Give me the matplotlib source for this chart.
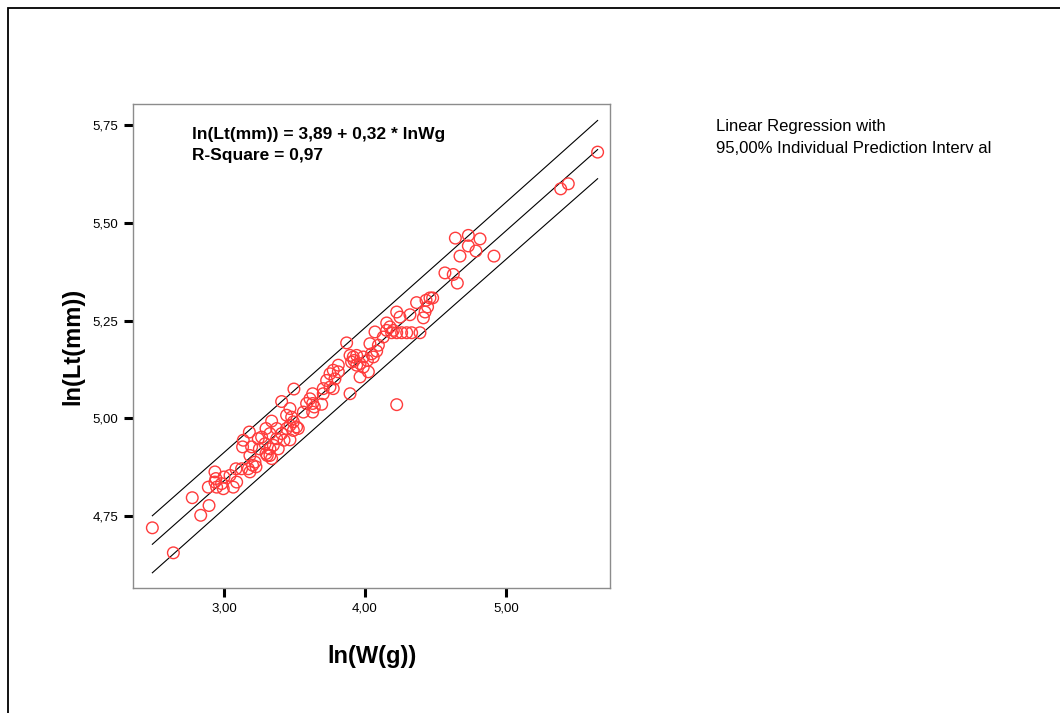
import numpy as np
import matplotlib.pyplot as plt
from matplotlib.patches import Rectangle

plt.rcParams["font.family"] = ["Liberation Sans", "DejaVu Sans"]

# ln(W(g)) and ln(Lt(mm))
lnW = [5.650, 5.388, 5.442, 4.641, 4.733, 4.816, 4.733, 4.787, 4.674, 4.915,
       4.567, 4.626, 4.655, 4.366, 4.433, 4.461, 4.480, 4.444, 4.426, 4.414,
       4.225, 4.248, 4.319, 4.154, 4.177, 4.201, 4.071, 4.154, 4.225, 4.260,
       4.296, 4.331, 4.390, 4.189, 3.870, 4.035, 4.095, 4.130, 4.083, 4.047,
       4.059, 3.988, 4.017, 3.894, 3.917, 3.941, 3.922, 3.905, 3.965, 3.941,
       3.988, 3.965, 4.024, 3.811, 3.775, 3.811, 3.752, 3.728, 3.787, 3.704,
       3.752, 3.775, 3.496, 3.894, 3.704, 3.629, 3.610, 3.629, 3.586, 3.693,
       3.563, 3.629, 3.641, 3.409, 3.468, 3.444, 3.480, 3.492, 3.468, 3.515,
       3.527, 3.492, 3.444, 3.338, 3.298, 3.374, 3.326, 3.409, 3.267, 3.374,
       3.426, 3.468, 3.243, 3.291, 3.350, 3.251, 3.326, 3.385, 3.298, 3.326,
       3.338, 3.307, 3.180, 3.137, 3.132, 3.196, 3.184, 3.220, 3.203, 3.173,
       3.184, 3.227, 3.085, 3.125, 3.043, 3.090, 3.066, 2.936, 2.943, 2.948,
       3.000, 2.995, 2.983, 2.889, 2.936, 2.775, 2.894, 2.835, 2.492, 2.641,
       4.225]
lnLt = [5.681, 5.587, 5.600, 5.461, 5.468, 5.459, 5.441, 5.428, 5.415, 5.415,
        5.372, 5.368, 5.346, 5.296, 5.302, 5.308, 5.308, 5.285, 5.272, 5.257,
        5.272, 5.259, 5.265, 5.244, 5.234, 5.225, 5.221, 5.225, 5.219, 5.219,
        5.219, 5.219, 5.219, 5.219, 5.193, 5.191, 5.187, 5.208, 5.172, 5.165,
        5.157, 5.157, 5.148, 5.161, 5.157, 5.161, 5.148, 5.144, 5.140, 5.136,
        5.131, 5.106, 5.119, 5.136, 5.123, 5.119, 5.114, 5.097, 5.101, 5.076,
        5.080, 5.076, 5.075, 5.063, 5.063, 5.063, 5.050, 5.038, 5.038, 5.036,
        5.016, 5.016, 5.029, 5.043, 5.025, 5.008, 5.003, 4.991, 4.982, 4.978,
        4.974, 4.969, 4.974, 4.993, 4.974, 4.974, 4.961, 4.961, 4.952, 4.948,
        4.944, 4.945, 4.948, 4.935, 4.931, 4.922, 4.922, 4.922, 4.910, 4.905,
        4.897, 4.905, 4.965, 4.944, 4.927, 4.927, 4.905, 4.888, 4.880, 4.871,
        4.863, 4.876, 4.871, 4.871, 4.854, 4.837, 4.824, 4.863, 4.846, 4.824,
        4.850, 4.820, 4.833, 4.824, 4.837, 4.797, 4.777, 4.752, 4.720, 4.656,
        5.035]

x_ticks = [3.0, 4.0, 5.0]
y_ticks = [4.75, 5.00, 5.25, 5.50, 5.75]

x = np.array(lnW)
y = np.array(lnLt)

# regressao linear + intervalo de predicao individual 95%
b1, b0 = np.polyfit(x, y, 1)
n = len(x)
resid = y - (b0 + b1 * x)
s = np.sqrt(np.sum(resid ** 2) / (n - 2))
t = 1.976
xx = np.linspace(x.min(), x.max(), 200)
fit = b0 + b1 * xx
half = t * s * np.sqrt(1 + 1 / n + (xx - x.mean()) ** 2 / np.sum((x - x.mean()) ** 2))

fig = plt.figure(figsize=(10.6, 7.13), dpi=100)
ax = fig.add_axes([0.1255, 0.1753, 0.45, 0.6788])

ax.plot(xx, fit, color="black", lw=0.8)
ax.plot(xx, fit + half, color="black", lw=0.8)
ax.plot(xx, fit - half, color="black", lw=0.8)
ax.scatter(x, y, s=70, facecolors="none", edgecolors="#ff3b3b", linewidths=1.0, zorder=3)

ax.set_xlim(2.355, 5.738)
ax.set_ylim(4.566, 5.804)
ax.set_xticks(x_ticks)
ax.set_yticks(y_ticks)
ax.set_xticklabels([f"{v:.2f}".replace(".", ",") for v in x_ticks])
ax.set_yticklabels([f"{v:.2f}".replace(".", ",") for v in y_ticks])
ax.tick_params(direction="out", length=6.5, width=2.2, color="black", labelsize=9.5, pad=4)
for sp in ax.spines.values():
    sp.set_color("#8c8c8c")
    sp.set_linewidth(1.0)

ax.set_xlabel("ln(W(g))", fontsize=17, fontweight="bold", labelpad=22)
ax.set_ylabel("ln(Lt(mm))", fontsize=17, fontweight="bold", labelpad=6)

ax.text(0.124, 0.953, "ln(Lt(mm)) = 3,89 + 0,32 * lnWg\nR-Square = 0,97", transform=ax.transAxes,
        ha="left", va="top", fontsize=12.5, fontweight="bold", linespacing=1.55)

fig.text(716 / 1060, 1 - 119 / 713, "Linear Regression with\n95,00% Individual Prediction Interv al",
         ha="left", va="top", fontsize=12, linespacing=1.6)

# moldura externa
fig.patches.append(Rectangle((8 / 1060, -0.05), 1.1, 1 - 8 / 713 + 0.05, transform=fig.transFigure,
                             fill=False, edgecolor="black", lw=1.3))

fig.savefig("out.png", dpi=100)
